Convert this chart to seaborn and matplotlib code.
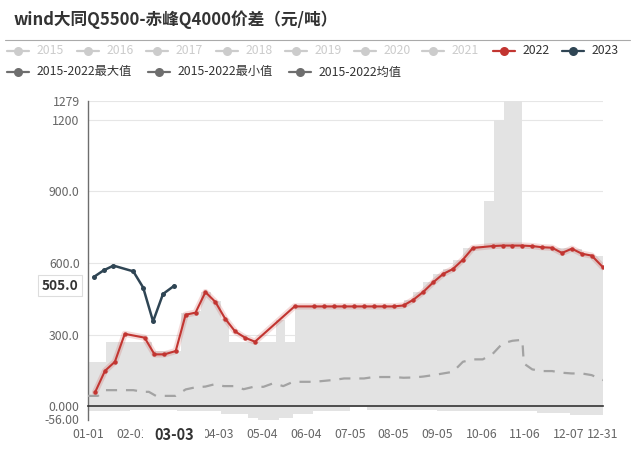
import numpy as np
import pandas as pd
import matplotlib
matplotlib.use("Agg")
import matplotlib.pyplot as plt
import matplotlib.transforms as mtrans
from matplotlib.lines import Line2D
import seaborn as sns

# ---------------- data ----------------
title = "wind大同Q5500-赤峰Q4000价差（元/吨）"

x_tick_days = [0, 31, 61, 92, 123, 154, 185, 216, 247, 278, 309, 340, 364]
x_tick_labels = ["01-01", "02-01", "03-03", "04-03", "05-04", "06-04", "07-05",
                 "08-05", "09-05", "10-06", "11-06", "12-07", "12-31"]
y_tick_vals = [-56, 0, 300, 600, 900, 1200, 1279]
y_tick_labels = ["-56.00", "0.000", "300.0", "600.0", "900.0", "1200", "1279"]

days_2022 = [5, 12, 19, 26, 40, 47, 54, 62, 69, 76, 83, 90, 97, 104, 111, 118,
             146, 160, 167, 174, 181, 188, 195, 202, 209, 216, 223, 230, 237, 244,
             251, 258, 265, 272, 286, 293, 300, 307, 314, 321, 328, 335, 342, 349,
             356, 364]
vals_2022 = [58, 148, 186, 303, 287, 217, 217, 231, 383, 392, 478, 437, 366, 313,
             287, 270, 418, 418, 418, 418, 418, 418, 418, 418, 418, 418, 422, 446,
             479, 519, 554, 575, 614, 663, 671, 673, 673, 673, 671, 666, 664, 642,
             660, 639, 631, 582]

days_2023 = [4, 11, 18, 32, 39, 46, 53, 61]
vals_2023 = [541, 569, 589, 565, 497, 355, 470, 505]

band_days = [0, 13, 30, 45, 63, 66, 78, 80, 87, 94, 100, 113, 120, 133, 135, 139,
             145, 146, 159, 185, 197, 223, 230, 237, 244, 247, 251, 258, 265, 272,
             280, 287, 294, 307, 314, 317, 321, 328, 341, 342, 349, 356, 364]
band_max = [186, 270, 270, 232, 232, 391, 397, 478, 440, 366, 270, 270, 270, 361,
            361, 270, 270, 418, 418, 418, 418, 446, 479, 519, 554, 554, 575, 614,
            663, 671, 859, 1200, 1279, 673, 671, 671, 666, 664, 664, 660, 639, 631,
            631]
band_min = [-20, -20, -15, -15, -20, -20, -20, -20, -20, -35, -35, -48, -56, -56,
            -48, -48, -35, -35, -20, -5, -17, -17, -17, -17, -17, -22, -22, -22,
            -22, -22, -22, -22, -22, -22, -22, -30, -30, -30, -38, -38, -38, -38,
            -38]

mean_days = [0, 7, 12, 18, 25, 32, 39, 43, 48, 62, 69, 76, 83, 89, 96, 103, 110,
             117, 124, 131, 138, 145, 152, 160, 167, 174, 181, 188, 195, 202, 209,
             216, 223, 230, 237, 244, 251, 258, 265, 272, 279, 286, 293, 300, 307,
             308, 314, 321, 328, 335, 342, 349, 356, 364]
mean_vals = [43, 43, 67, 67, 67, 67, 60, 60, 43, 43, 70, 79, 82, 91, 84, 84, 71,
             81, 81, 96, 84, 102, 102, 102, 106, 110, 116, 116, 116, 122, 122, 122,
             119, 120, 124, 130, 137, 144, 186, 196, 196, 219, 263, 274, 278, 179,
             154, 147, 147, 140, 137, 137, 130, 109]

legend_row1 = ["2015", "2016", "2017", "2018", "2019", "2020", "2021", "2022", "2023"]
legend_row2 = ["2015-2022最大值", "2015-2022最小值", "2015-2022均值"]

hover_x_label = "03-03"
hover_y_value = 505.0

# ---------------- style ----------------
C22 = "#c23531"
C23 = "#2f4554"
CGREY_OFF = "#cccccc"
CSTAT = "#6e6e6e"

sns.set_style("white")
plt.rcParams["font.family"] = ["Noto Sans CJK SC", "DejaVu Sans"]

W, H = 640, 462
fig = plt.figure(figsize=(W / 100, H / 100), dpi=100)
L, R, T, B = 88, 603, 101, 419.5
ax = fig.add_axes([L / W, (H - B) / H, (R - L) / W, (B - T) / H])

# grid
for v in [300, 600, 900, 1200, 1279]:
    ax.axhline(v, color="#e6e6e6", lw=0.8, zorder=0.5)

# max/min band
ax.fill_between(band_days, band_min, band_max, step="post", color="#e3e3e3",
                lw=0, zorder=1)

# mean dashed
df_mean = pd.DataFrame({"day": mean_days, "val": mean_vals})
sns.lineplot(data=df_mean, x="day", y="val", ax=ax, color="#a3a3a3", lw=1.6,
             zorder=3, sort=False)
ax.lines[-1].set_dashes([5, 4])

# 2022
df22 = pd.DataFrame({"day": days_2022, "val": vals_2022})
sns.lineplot(data=df22, x="day", y="val", ax=ax, color=C22, lw=4.5, alpha=0.18,
             zorder=4)
sns.lineplot(data=df22, x="day", y="val", ax=ax, color=C22, lw=1.5, marker="o",
             markersize=3.2, markeredgewidth=0, zorder=5)

# 2023
df23 = pd.DataFrame({"day": days_2023, "val": vals_2023})
sns.lineplot(data=df23, x="day", y="val", ax=ax, color=C23, lw=1.8, marker="o",
             markersize=3.6, markeredgewidth=0, zorder=6)

ax.set_xlim(0, 364)
ax.set_ylim(-56, 1279)
ax.set_xlabel("")
ax.set_ylabel("")

for s in ["top", "right"]:
    ax.spines[s].set_visible(False)
ax.spines["left"].set_color("#6e6e6e")
ax.spines["left"].set_linewidth(1.0)
ax.spines["bottom"].set_position(("data", 0))
ax.spines["bottom"].set_color("#333333")
ax.spines["bottom"].set_linewidth(1.2)
ax.spines["bottom"].set_zorder(7)

# the hovered category label is drawn separately (bold), so its plain tick label is blank
shown_x_labels = ["" if lab == hover_x_label else lab for lab in x_tick_labels]
ax.set_xticks(x_tick_days)
ax.set_xticklabels(shown_x_labels)
ax.set_yticks(y_tick_vals)
ax.set_yticklabels(y_tick_labels)
ax.tick_params(axis="x", direction="out", length=4, width=1, color="#333333",
               pad=12, labelsize=8.8, labelcolor="#666666")
ax.tick_params(axis="y", direction="out", length=4, width=1, color="#6e6e6e",
               pad=2, labelsize=8.8, labelcolor="#666666")

# hover highlights
tr = mtrans.blended_transform_factory(ax.transData, ax.transAxes)
hover_day = x_tick_days[x_tick_labels.index(hover_x_label)]
ax.text(hover_day, -0.05, hover_x_label, transform=tr, ha="center", va="center",
        fontsize=10.5, fontweight="bold", color="#333333", zorder=10,
        clip_on=False,
        bbox=dict(boxstyle="square,pad=0.75", fc="white", ec="none"))
tr2 = mtrans.blended_transform_factory(ax.transAxes, ax.transData)
ax.text(-0.019, hover_y_value, f"{hover_y_value:.1f}", transform=tr2, ha="right",
        va="center", fontsize=9.8, fontweight="bold", color="#333333",
        zorder=10, clip_on=False,
        bbox=dict(boxstyle="square,pad=0.25", fc="white", ec="#dddddd", lw=0.8))

# ---------------- title / legend ----------------
def fx(x):
    return x / W

def fy(y):
    return 1 - y / H

fig.text(fx(14), fy(20), title, fontsize=12, fontweight="bold",
         color="#333333", va="center", ha="left")
fig.add_artist(Line2D([fx(5), fx(630)], [fy(40), fy(40)], color="#aaaaaa", lw=0.8))

row1_x = [18, 88, 157, 227, 296, 365, 433, 504, 573]
for name, x in zip(legend_row1, row1_x):
    if name == "2022":
        c, tc = C22, "#333333"
    elif name == "2023":
        c, tc = C23, "#333333"
    else:
        c, tc = CGREY_OFF, CGREY_OFF
    fig.add_artist(Line2D([fx(x - 11), fx(x + 11)], [fy(51), fy(51)], color=c, lw=1.6))
    fig.add_artist(Line2D([fx(x)], [fy(51)], color=c, marker="o", markersize=6.5,
                          markeredgewidth=0))
    fig.text(fx(x + 19), fy(51), name, fontsize=8.8, color=tc, va="center", ha="left")

row2_x = [18, 159, 300]
for name, x in zip(legend_row2, row2_x):
    fig.add_artist(Line2D([fx(x - 11), fx(x + 11)], [fy(72), fy(72)], color=CSTAT, lw=1.6))
    fig.add_artist(Line2D([fx(x)], [fy(72)], color=CSTAT, marker="o", markersize=6.5,
                          markeredgewidth=0))
    fig.text(fx(x + 19), fy(72), name, fontsize=8.8, color="#333333", va="center",
             ha="left")

fig.savefig("out.png", dpi=100)
